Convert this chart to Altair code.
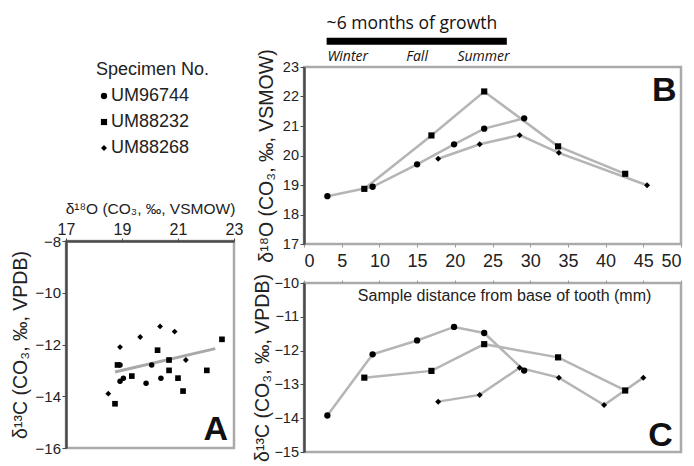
import altair as alt
import pandas as pd

FONT = "Liberation Sans"
specimens = ["UM96744", "UM88232", "UM88268"]
shapes = ["circle", "square", "diamond"]

# ---- Panel B: d18O vs sample distance (mm)
b_dist = {
    "UM96744": [3.1, 9.1, 15.0, 19.9, 23.9, 29.2],
    "UM88232": [8.0, 16.9, 23.9, 33.7, 42.6],
    "UM88268": [17.8, 23.3, 28.6, 33.8, 45.5],
}
b_d18o = {
    "UM96744": [18.62, 18.94, 19.70, 20.38, 20.91, 21.26],
    "UM88232": [18.87, 20.68, 22.17, 20.31, 19.38],
    "UM88268": [19.89, 20.38, 20.69, 20.09, 18.99],
}
# ---- Panel C: d13C vs sample distance (mm)
c_dist = {
    "UM96744": [3.1, 9.1, 15.0, 19.9, 23.9, 29.2],
    "UM88232": [8.0, 16.9, 23.9, 33.7, 42.6],
    "UM88268": [17.8, 23.3, 28.6, 33.8, 39.8, 45.0],
}
c_d13c = {
    "UM96744": [-13.92, -12.11, -11.70, -11.30, -11.48, -12.59],
    "UM88232": [-12.80, -12.60, -11.81, -12.20, -13.18],
    "UM88268": [-13.51, -13.31, -12.51, -12.80, -13.61, -12.80],
}
# ---- Panel A: d13C vs d18O cross-plot (marker as drawn)
a_diamond_x = [18.51, 18.93, 19.65, 20.36, 20.88, 21.28]
a_diamond_y = [-13.90, -12.10, -11.71, -11.30, -11.50, -12.60]
a_square_x = [18.75, 18.84, 19.35, 20.27, 20.68, 20.68, 21.00, 21.18, 22.03, 22.57]
a_square_y = [-14.29, -12.79, -13.22, -12.22, -12.60, -13.00, -13.30, -13.80, -13.00, -11.80]
a_circle_x = [18.93, 18.93, 19.05, 19.86, 20.06, 20.39]
a_circle_y = [-12.79, -13.42, -13.30, -13.50, -12.79, -13.30]
fit_x = [18.75, 22.33]
fit_y = [-13.06, -12.16]

# ---- Annotations (in data units of the panel they sit on)
growth_label = "~6 months of growth"
growth_bar = {"dist": 3.0, "dist2": 26.9, "val": 23.87}
growth_text = {"dist": 3.0, "val": 24.29}
seasons = ["Winter", "Fall", "Summer"]
season_x = [5.8, 15.0, 23.8]
season_y = 23.21
xlabel_text = "Sample distance from base of tooth (mm)"
xlabel_pos = {"dist": 26.6, "val": -10.54}

rows_b, rows_c = [], []
for s in specimens:
    for d, v in zip(b_dist[s], b_d18o[s]):
        rows_b.append({"specimen": s, "dist": d, "val": v})
    for d, v in zip(c_dist[s], c_d13c[s]):
        rows_c.append({"specimen": s, "dist": d, "val": v})
df_b = pd.DataFrame(rows_b)
df_c = pd.DataFrame(rows_c)

rows_a = []
for m, xs, ys in [("diamond", a_diamond_x, a_diamond_y), ("square", a_square_x, a_square_y),
                  ("circle", a_circle_x, a_circle_y)]:
    for x, y in zip(xs, ys):
        rows_a.append({"marker": m, "x": x, "y": y})
df_a = pd.DataFrame(rows_a)
df_fit = pd.DataFrame({"x": fit_x, "y": fit_y})

LINE = "#b5b5b5"
DARK = "#4a4a4a"

shape_enc = alt.Shape("specimen:N", scale=alt.Scale(domain=specimens, range=shapes), legend=None)
size_enc = alt.Size("specimen:N", scale=alt.Scale(domain=specimens, range=[40, 30, 50]), legend=None)

# ---------------- Panel B
xb = alt.X("dist:Q", scale=alt.Scale(domain=[0, 50], nice=False, zero=False),
           axis=alt.Axis(values=list(range(0, 55, 5)), title=None, labelFontSize=18,
                         tickSize=3, labelPadding=5, domain=False, tickColor="#999",
                         labelFlush=True, labelOverlap=False, labelColor="#222"))
yb = alt.Y("val:Q", scale=alt.Scale(domain=[17, 23], nice=False, zero=False),
           axis=alt.Axis(values=list(range(17, 24)), title="δ¹⁸O (CO₃, ‰, VSMOW)",
                         titleFontSize=19.5, titlePadding=6, labelFontSize=14.5,
                         tickSize=4, labelPadding=1.5, domainColor=DARK, domainWidth=2.5,
                         tickColor=DARK, labelOverlap=False, labelFlush=False))
base_b = alt.Chart(df_b)
b_lines = base_b.mark_line(color=LINE, strokeWidth=2.5).encode(
    x=xb, y=yb, detail="specimen:N", order="dist:Q")
b_pts = base_b.mark_point(filled=True, color="black", opacity=1).encode(
    x=xb, y=yb, shape=shape_enc, size=size_enc)
ann_txt = alt.Chart(pd.DataFrame([{**growth_text, "t": growth_label}])).mark_text(
    align="left", baseline="alphabetic", font="Open Sans", fontSize=17.5, color="#111"
).encode(x=xb, y=yb, text="t:N")
ann_bar = alt.Chart(pd.DataFrame([growth_bar])).mark_rule(
    color="black", strokeWidth=7, strokeCap="butt"
).encode(x=xb, x2="dist2:Q", y=yb)
ann_seasons = alt.Chart(pd.DataFrame({"dist": season_x, "val": [season_y] * 3, "t": seasons})).mark_text(
    align="center", baseline="alphabetic", font="Open Sans", fontStyle="italic",
    fontSize=14, color="#111"
).encode(x=xb, y=yb, text="t:N")
b_letter = alt.Chart(pd.DataFrame([{"dist": 49.4, "val": 21.86, "t": "B"}])).mark_text(
    align="right", baseline="alphabetic", font=FONT, fontWeight="bold", fontSize=34, color="#111"
).encode(x=xb, y=yb, text="t:N")
panel_b = alt.layer(b_lines, b_pts, ann_txt, ann_bar, ann_seasons, b_letter).properties(
    width=377, height=177)

# ---------------- Panel C
xc = alt.X("dist:Q", scale=alt.Scale(domain=[0, 50], nice=False, zero=False),
           axis=alt.Axis(values=list(range(0, 55, 5)), orient="top", labels=False, title=None,
                         tickSize=3, domain=False, tickColor="#999"))
yc = alt.Y("val:Q", scale=alt.Scale(domain=[-15, -10], nice=False, zero=False),
           axis=alt.Axis(values=list(range(-15, -9)), title="δ¹³C (CO₃, ‰, VPDB)",
                         titleFontSize=19.5, titlePadding=1, labelFontSize=14.5,
                         tickSize=4, labelPadding=1.5, domainColor=DARK, domainWidth=2.5,
                         tickColor=DARK, labelOverlap=False, labelFlush=False))
base_c = alt.Chart(df_c)
c_lines = base_c.mark_line(color=LINE, strokeWidth=2.5).encode(
    x=xc, y=yc, detail="specimen:N", order="dist:Q")
c_pts = base_c.mark_point(filled=True, color="black", opacity=1).encode(
    x=xc, y=yc, shape=shape_enc, size=size_enc)
c_xlabel = alt.Chart(pd.DataFrame([{**xlabel_pos, "t": xlabel_text}])).mark_text(
    align="center", baseline="alphabetic", font=FONT, fontSize=16, color="#222"
).encode(x=xc, y=yc, text="t:N")
c_letter = alt.Chart(pd.DataFrame([{"dist": 48.9, "val": -14.82, "t": "C"}])).mark_text(
    align="right", baseline="alphabetic", font=FONT, fontWeight="bold", fontSize=34, color="#111"
).encode(x=xc, y=yc, text="t:N")
panel_c = alt.layer(c_lines, c_pts, c_xlabel, c_letter).properties(width=377, height=169)

# ---------------- Panel A
xa = alt.X("x:Q", scale=alt.Scale(domain=[17, 23], nice=False, zero=False),
           axis=alt.Axis(values=[17, 19, 21, 23], orient="top", title="δ¹⁸O (CO₃, ‰, VSMOW)",
                         titleFontSize=15.5, titlePadding=5, labelFontSize=16, tickSize=3,
                         labelPadding=1, domainColor=DARK, domainWidth=2.5, tickColor=DARK,
                         labelOverlap=False, labelFlush=False))
ya = alt.Y("y:Q", scale=alt.Scale(domain=[-16, -8], nice=False, zero=False),
           axis=alt.Axis(values=[-16, -14, -12, -10, -8], title="δ¹³C (CO₃, ‰, VPDB)",
                         titleFontSize=19.5, titlePadding=5, labelFontSize=15, tickSize=4,
                         labelPadding=1.5, domainColor=DARK, domainWidth=2.5, tickColor=DARK,
                         labelOverlap=False, labelFlush=False))
a_fit = alt.Chart(df_fit).mark_line(color="#a8a8a8", strokeWidth=3).encode(x=xa, y=ya)
a_pts = alt.Chart(df_a).mark_point(filled=True, color="black", opacity=1).encode(
    x=xa, y=ya,
    shape=alt.Shape("marker:N", scale=None),
    size=alt.Size("marker:N", scale=alt.Scale(domain=["diamond", "square", "circle"],
                                              range=[64, 64, 11]), legend=None))
a_letter = alt.Chart(pd.DataFrame([{"x": 22.79, "y": -15.69, "t": "A"}])).mark_text(
    align="right", baseline="alphabetic", font=FONT, fontWeight="bold", fontSize=34, color="#111"
).encode(x=xa, y=ya, text="t:N")
panel_a = alt.layer(a_fit, a_pts, a_letter).properties(width=168, height=207)

# ---------------- Legend block
leg_rows = pd.DataFrame({"row": [1, 2, 3], "col": [0, 0, 0], "specimen": specimens})
leg_title = pd.DataFrame({"row": [0], "col": [0], "t": ["Specimen No."]})
lx = alt.X("col:Q", scale=alt.Scale(domain=[0, 1], range=[38, 138]), axis=None)
ly = alt.Y("row:Q", scale=alt.Scale(domain=[0, 3], range=[3, 81]), axis=None)
leg_pts = alt.Chart(leg_rows).mark_point(filled=True, color="black", opacity=1).encode(
    x=lx, y=ly, shape=shape_enc, size=size_enc)
leg_txt = alt.Chart(leg_rows).mark_text(
    align="left", baseline="middle", dx=7, font=FONT, fontSize=18, color="#222"
).encode(x=lx, y=ly, text="specimen:N")
leg_head = alt.Chart(leg_title).mark_text(
    align="left", baseline="middle", dx=-8, font=FONT, fontSize=18, color="#222"
).encode(x=lx, y=ly, text="t:N")
legend_block = alt.layer(leg_pts, leg_txt, leg_head).properties(
    width=150, height=106, view=alt.ViewBackground(stroke=None))

left = alt.vconcat(legend_block, panel_a, spacing=26)
right = alt.vconcat(panel_b, panel_c, spacing=0)
chart = alt.hconcat(left, right, spacing=6).properties(
    padding={"left": 0, "top": 5, "right": 0, "bottom": 0}
).configure_view(
    stroke="#aaaaaa", strokeWidth=2.5
).configure_axis(
    labelFont=FONT, titleFont=FONT, titleFontWeight="normal", grid=False,
    labelColor="#222", titleColor="#222"
)

chart.save("out.html", embed_options={"renderer": "svg", "actions": False})
